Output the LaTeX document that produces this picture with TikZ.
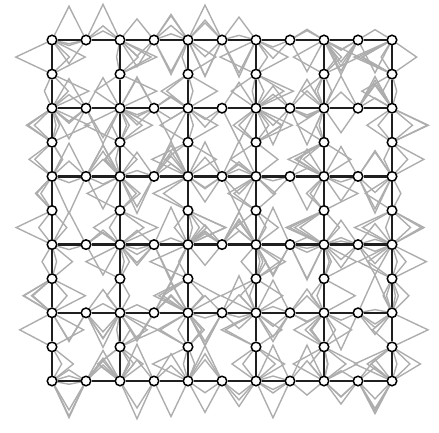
\documentclass[tikz,border=0pt]{standalone}
\usetikzlibrary{calc}
\begin{document}
\begin{tikzpicture}[x=1pt,y=-1pt,
  vtx/.style={circle,draw=black,fill=white,line width=1.5pt,inner sep=0pt,minimum size=9.5pt},
  gridline/.style={draw=black!88,line width=2.3pt},
  ghost/.style={draw=black!32,line width=1.4pt,line join=miter}]
\useasboundingbox (0,0) rectangle (439,433);
\foreach \i in {0,...,10} \foreach \j in {0,...,10} {
  \coordinate (p-\i-\j) at ({52+34*\i},{40+34.1*\j});
}
\pgfmathsetseed{12}
% gray bundles on horizontal edges
\foreach \j in {0,2,...,10} \foreach \i in {0,...,9} {
  \pgfmathtruncatemacro\ni{\i+1}
  \pgfmathtruncatemacro\cnt{random(2,6)}
  \foreach \k in {1,...,\cnt} {
    \pgfmathsetmacro\off{(2*random(0,1)-1)*(3+35*rnd)}
    \draw[ghost] (p-\i-\j) -- ($(p-\i-\j)!0.5!(p-\ni-\j)+(0,\off)$) -- (p-\ni-\j);
  }
}
% gray bundles on vertical edges
\foreach \i in {0,2,...,10} \foreach \j in {0,...,9} {
  \pgfmathtruncatemacro\nj{\j+1}
  \pgfmathtruncatemacro\cnt{random(2,6)}
  \foreach \k in {1,...,\cnt} {
    \pgfmathsetmacro\off{(2*random(0,1)-1)*(3+35*rnd)}
    \draw[ghost] (p-\i-\j) -- ($(p-\i-\j)!0.5!(p-\i-\nj)+(\off,0)$) -- (p-\i-\nj);
  }
}
% nodes
\foreach \i in {0,...,10} \foreach \j in {0,...,10} {
  \pgfmathtruncatemacro\both{mod(\i,2)*mod(\j,2)}
  \ifnum\both=0 \node[vtx] (n-\i-\j) at (p-\i-\j) {}; \fi
}
% black grid
\foreach \k in {0,2,...,10} {
  \draw[gridline] (n-0-\k) -- (n-1-\k) -- (n-2-\k) -- (n-3-\k) -- (n-4-\k) -- (n-5-\k) -- (n-6-\k) -- (n-7-\k) -- (n-8-\k) -- (n-9-\k) -- (n-10-\k);
  \draw[gridline] (n-\k-0) -- (n-\k-1) -- (n-\k-2) -- (n-\k-3) -- (n-\k-4) -- (n-\k-5) -- (n-\k-6) -- (n-\k-7) -- (n-\k-8) -- (n-\k-9) -- (n-\k-10);
}
\end{tikzpicture}
\end{document}
